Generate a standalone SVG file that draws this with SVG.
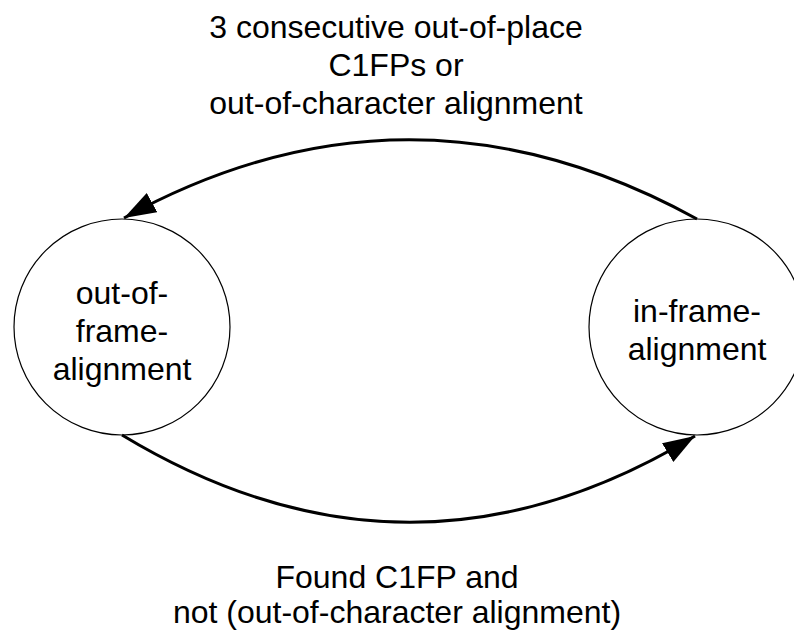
<svg xmlns="http://www.w3.org/2000/svg" width="794" height="631" viewBox="0 0 794 631">
  <style>
    .node { fill: #ffffff; stroke: #000000; stroke-width: 1.2; }
    .label { font-family: "Liberation Sans", Arial, sans-serif; font-size: 32px; fill: #000000; text-anchor: middle; }
    .edge { fill: none; stroke: #000000; stroke-width: 3; }
  </style>
  <defs>
    <marker id="arrow" markerUnits="userSpaceOnUse" markerWidth="34" markerHeight="24" refX="32" refY="11" orient="auto">
      <path d="M0,0 L32,11 L0,22 Z" fill="#000000"/>
    </marker>
  </defs>
  <rect width="794" height="631" fill="#ffffff"/>
  <g id="node-out-of-frame">
    <circle class="node" cx="122" cy="327" r="108"/>
    <text class="label" x="122" y="304">out-of-</text>
    <text class="label" x="122" y="342">frame-</text>
    <text class="label" x="122" y="380">alignment</text>
  </g>
  <g id="node-in-frame">
    <circle class="node" cx="697" cy="327" r="108"/>
    <text class="label" x="697" y="322">in-frame-</text>
    <text class="label" x="697" y="360">alignment</text>
  </g>
  <g id="connectors">
    <path class="edge" d="M 697 219 Q 409.5 61 124 218" marker-end="url(#arrow)"/>
    <path class="edge" d="M 122 435 Q 409.5 609 695 436" marker-end="url(#arrow)"/>
  </g>
  <g id="edge-labels">
    <text class="label" x="396" y="38">3 consecutive out-of-place</text>
    <text class="label" x="396" y="76">C1FPs or</text>
    <text class="label" x="396" y="114">out-of-character alignment</text>
    <text class="label" x="397" y="588">Found C1FP and</text>
    <text class="label" x="397" y="623">not (out-of-character alignment)</text>
  </g>
</svg>
